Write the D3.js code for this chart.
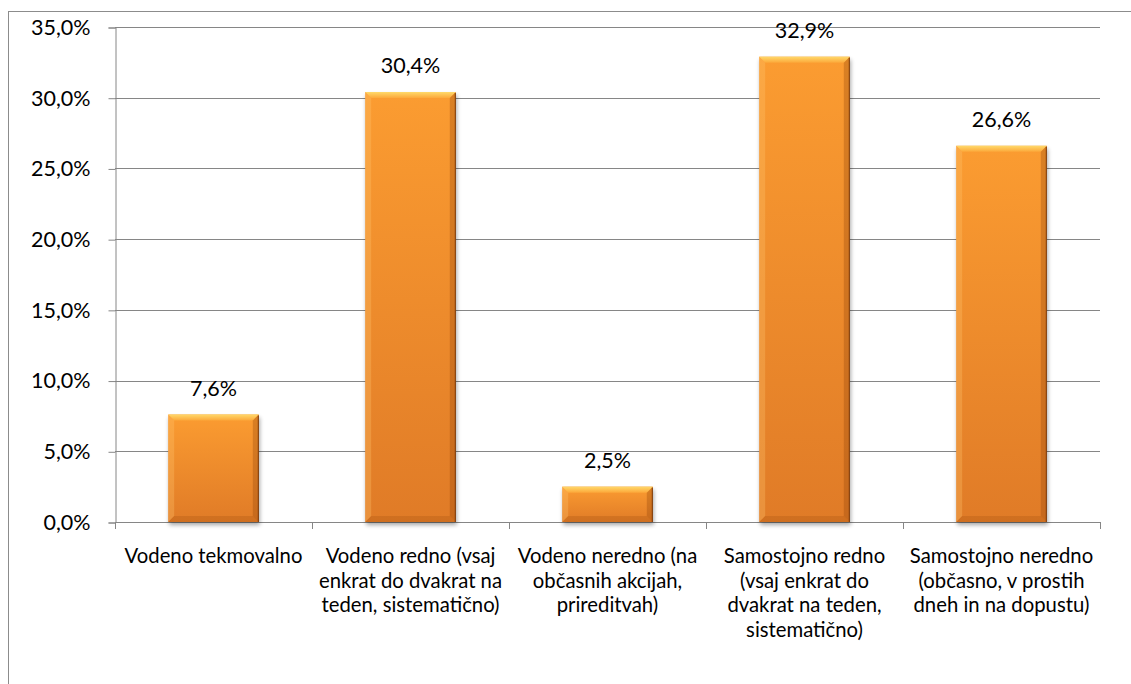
<!DOCTYPE html>
<html>
<head>
<meta charset="utf-8">
<script src="https://cdn.jsdelivr.net/npm/d3@7/dist/d3.min.js"></script>
<style>
  html, body { margin: 0; padding: 0; background: #fff; }
  svg { display: block; }
  text { font-family: Lato, "Open Sans", sans-serif; fill: #000; }
</style>
</head>
<body>
<svg id="chart" width="1131" height="684"></svg>
<script>
// Share of respondents by type of physical activity
const categories = [
  "Vodeno tekmovalno",
  "Vodeno redno (vsaj enkrat do dvakrat na teden, sistematično)",
  "Vodeno neredno (na občasnih akcijah, prireditvah)",
  "Samostojno redno (vsaj enkrat do dvakrat na teden, sistematično)",
  "Samostojno neredno (občasno, v prostih dneh in na dopustu)"
];
const categoryLines = [
  ["Vodeno tekmovalno"],
  ["Vodeno redno (vsaj", "enkrat do dvakrat na", "teden, sistematično)"],
  ["Vodeno neredno (na", "občasnih akcijah,", "prireditvah)"],
  ["Samostojno redno", "(vsaj enkrat do", "dvakrat na teden,", "sistematično)"],
  ["Samostojno neredno", "(občasno, v prostih", "dneh in na dopustu)"]
];
const values = [7.6, 30.4, 2.5, 32.9, 26.6];
const yTicks = [0, 5, 10, 15, 20, 25, 30, 35];

const fmt = v => d3.format(".1f")(v).replace(".", ",") + "%";

const svg = d3.select("#chart");
const plot = { left: 115, right: 1100, top: 27, bottom: 522 };
const labelSize = 20.3;
const numberSize = 21.5;

const x = d3.scaleBand()
  .domain(categories)
  .range([plot.left, plot.right])
  .paddingInner(0.54)
  .paddingOuter(0.27);

const y = d3.scaleLinear()
  .domain([0, 35])
  .range([plot.bottom, plot.top]);

const defs = svg.append("defs");

const body = defs.append("linearGradient")
  .attr("id", "barBody").attr("x1", 0).attr("y1", 0).attr("x2", 0).attr("y2", 1);
body.append("stop").attr("offset", "0%").attr("stop-color", "#fb9c31");
body.append("stop").attr("offset", "100%").attr("stop-color", "#e07b27");

const topBevel = defs.append("linearGradient")
  .attr("id", "topBevel").attr("x1", 0).attr("y1", 0).attr("x2", 0).attr("y2", 1);
topBevel.append("stop").attr("offset", "0%").attr("stop-color", "#ffd96a");
topBevel.append("stop").attr("offset", "100%").attr("stop-color", "#fca83a");

const shadow = defs.append("filter").attr("id", "shadow")
  .attr("x", "-10%").attr("y", "-10%").attr("width", "130%").attr("height", "130%");
shadow.append("feGaussianBlur").attr("stdDeviation", 2);

// Outer chart frame
svg.append("rect")
  .attr("x", 8.5).attr("y", 11.5)
  .attr("width", 1300).attr("height", 900)
  .attr("fill", "none").attr("stroke", "#8c8c8c").attr("stroke-width", 1);

// Horizontal gridlines
svg.append("g")
  .selectAll("line")
  .data(yTicks)
  .join("line")
  .attr("x1", plot.left).attr("x2", plot.right)
  .attr("y1", d => Math.round(y(d)) + 0.5).attr("y2", d => Math.round(y(d)) + 0.5)
  .attr("stroke", "#868686").attr("stroke-width", 1);

// Y axis
const yAxis = svg.append("g")
  .attr("transform", `translate(${plot.left + 0.5},0.5)`)
  .call(d3.axisLeft(y).tickValues(yTicks).tickFormat(fmt).tickSize(7).tickPadding(18));
yAxis.select(".domain").attr("stroke", "#868686");
yAxis.selectAll(".tick line").attr("stroke", "#868686");
yAxis.selectAll(".tick text")
  .attr("font-size", numberSize).attr("font-family", "Lato").attr("fill", "#000");

// X axis with ticks at category boundaries
const bounds = d3.range(categories.length + 1).map(i => plot.left + i * x.step());
const xAxisG = svg.append("g");
xAxisG.append("line")
  .attr("x1", plot.left).attr("x2", plot.right)
  .attr("y1", plot.bottom + 0.5).attr("y2", plot.bottom + 0.5)
  .attr("stroke", "#868686");
xAxisG.selectAll("line.tick")
  .data(bounds)
  .join("line")
  .attr("class", "tick")
  .attr("x1", d => Math.round(d) + 0.5).attr("x2", d => Math.round(d) + 0.5)
  .attr("y1", plot.bottom).attr("y2", plot.bottom + 7)
  .attr("stroke", "#868686");

// Category labels
const labels = svg.append("g")
  .selectAll("text")
  .data(categories)
  .join("text")
  .attr("text-anchor", "middle")
  .attr("font-size", labelSize)
  .attr("transform", d => `translate(${x(d) + x.bandwidth() / 2},${plot.bottom + 41})`);
labels.each(function (d, i) {
  d3.select(this).selectAll("tspan")
    .data(categoryLines[i])
    .join("tspan")
    .attr("x", 0)
    .attr("y", (l, j) => j * 24.5)
    .text(l => l);
});

// Bars with bevelled edges
const bevel = 6;
const bars = svg.append("g")
  .selectAll("g")
  .data(categories.map((c, i) => ({ c, v: values[i] })))
  .join("g");

bars.each(function (d) {
  const g = d3.select(this);
  const x0 = x(d.c), w = x.bandwidth();
  const y0 = y(d.v), h = y(0) - y(d.v);
  const b = Math.min(bevel, h / 3);
  g.append("rect")
    .attr("x", x0 + 1).attr("y", y0 + 3).attr("width", w).attr("height", h)
    .attr("fill", "#000").attr("opacity", 0.35).attr("filter", "url(#shadow)");
  g.append("rect")
    .attr("x", x0).attr("y", y0).attr("width", w).attr("height", h)
    .attr("fill", "url(#barBody)");
  g.append("polygon")
    .attr("points", [[x0, y0], [x0 + w, y0], [x0 + w - b, y0 + b], [x0 + b, y0 + b]].join(" "))
    .attr("fill", "url(#topBevel)");
  g.append("polygon")
    .attr("points", [[x0, y0], [x0 + b, y0 + b], [x0 + b, y0 + h - b], [x0, y0 + h]].join(" "))
    .attr("fill", "#ffc870").attr("opacity", 0.3);
  g.append("polygon")
    .attr("points", [[x0 + w, y0], [x0 + w, y0 + h], [x0 + w - b, y0 + h - b], [x0 + w - b, y0 + b]].join(" "))
    .attr("fill", "#8a3f05").attr("opacity", 0.3);
  g.append("polygon")
    .attr("points", [[x0, y0 + h], [x0 + w, y0 + h], [x0 + w - b, y0 + h - b], [x0 + b, y0 + h - b]].join(" "))
    .attr("fill", "#8a3f05").attr("opacity", 0.2);
  g.append("line")
    .attr("x1", x0 + w - 0.5).attr("x2", x0 + w - 0.5)
    .attr("y1", y0 + 1).attr("y2", y0 + h)
    .attr("stroke", "#7a3a0c").attr("stroke-width", 1);
});

// Value labels
svg.append("g")
  .selectAll("text")
  .data(categories.map((c, i) => ({ c, v: values[i] })))
  .join("text")
  .attr("text-anchor", "middle")
  .attr("font-size", numberSize)
  .attr("x", d => x(d.c) + x.bandwidth() / 2)
  .attr("y", d => y(d.v) - 19)
  .text(d => fmt(d.v));
</script>
</body>
</html>
